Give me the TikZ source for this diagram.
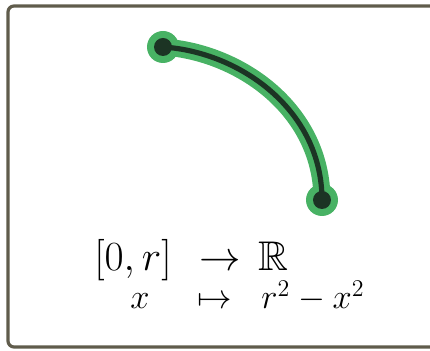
\documentclass[tikz,border=0pt]{standalone}
\usepackage{amsmath}
\usepackage{amssymb}

\definecolor{halo}{RGB}{72,178,100}
\definecolor{ink}{RGB}{28,52,36}
\definecolor{frame}{RGB}{96,92,76}

\begin{document}
\begin{tikzpicture}[x=0.5pt, y=-0.5pt,
    halostroke/.style={line width=8.5pt, halo, line cap=round},
    inkstroke/.style={line width=2.6pt, ink, line cap=round},
    txt/.style={anchor=base, inner sep=0pt}]
            \useasboundingbox (0,0) rectangle (430,351);
            % ==== FRAME ====
            \draw[frame, line width=1.6pt, rounded corners=3pt] (8,6) rectangle (445,347);
            % ==== ARC ====
            \coordinate (top) at (163,47);
            \coordinate (bot) at (322,200);
            \draw[halostroke] (top) .. controls (240,52) and (322,110) .. (bot);
            \fill[halo] (top) circle (8pt);
            \fill[halo] (bot) circle (8pt);
            \draw[inkstroke] (top) .. controls (240,52) and (322,110) .. (bot);
            \fill[ink] (top) circle (4.5pt);
            \fill[ink] (bot) circle (4.5pt);
            % ==== MAP ====
            \node[txt] (dom) at (133,271) {\huge $[0,r]$};
            \node[txt] (arr) at (220,271) {\huge $\to$};
            \node[txt] (cod) at (273,271) {\huge $\mathbb{R}$};
            \node[txt] (var) at (140,309) {\LARGE $x$};
            \node[txt] (maps) at (215,309) {\LARGE $\mapsto$};
            \node[txt] (img) at (313,309) {\LARGE $r^2-x^2$};
         \end{tikzpicture}
\end{document}
